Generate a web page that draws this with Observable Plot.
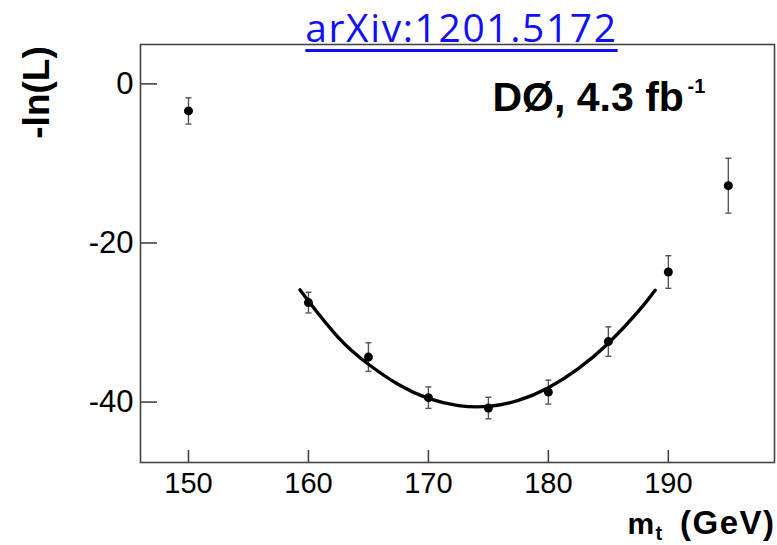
<!DOCTYPE html>
<html><head><meta charset="utf-8">
<script src="https://cdn.jsdelivr.net/npm/d3@7"></script>
<script src="https://cdn.jsdelivr.net/npm/@observablehq/plot@0.6"></script>
<style>
body{margin:0;background:#fff;}
#wrap{position:relative;width:777px;height:545px;overflow:hidden;}
#link{position:absolute;left:0;width:923px;text-align:center;top:7px;font-family:"Open Sans",sans-serif;font-size:39px;line-height:39px;color:#1010f8;text-decoration:underline;text-decoration-thickness:3px;text-underline-offset:7px;letter-spacing:1.6px;white-space:nowrap;}
.wide text, text.wide{letter-spacing:1.5px;}
</style></head>
<body><div id="wrap"><div id="chart"></div><a id="link" href="https://arxiv.org/abs/1201.5172">arXiv:1201.5172</a></div>
<script>
// Measured points: top-quark mass (GeV) and -ln(L)
const massPoints = [150, 160, 165, 170, 175, 180, 185, 190, 195];
const negLogL    = [-3.4, -27.5, -34.35, -39.45, -40.75, -38.75, -32.4, -23.65, -12.8];
const errors     = [1.65, 1.3, 1.8, 1.35, 1.35, 1.5, 1.85, 2.05, 3.45];
// Fitted curve
const fitMass    = [159.3, 160, 162.5, 165, 167.5, 170, 172.5, 175, 177.5, 180, 182.5, 185, 187.5, 188.9];
const fitNegLogL = [-25.9, -27.3, -31.9, -35.25, -37.8, -39.55, -40.45, -40.55, -39.8, -38.2, -35.8, -32.6, -28.6, -25.95];
const xTicks = [150, 160, 170, 180, 190];
const yTicks = [0, -20, -40];

const pts = massPoints.map((m, i) => ({m, v: negLogL[i], lo: negLogL[i] - errors[i], hi: negLogL[i] + errors[i]}));
const fit = fitMass.map((m, i) => ({m, v: fitNegLogL[i]}));

const capSymbol = {draw(ctx, size) { const w = Math.sqrt(size / Math.PI); ctx.moveTo(-w, 0); ctx.lineTo(w, 0); }};
const sans = "'Liberation Sans',Arial,sans-serif";
const frameCol = "#444";

const chart = Plot.plot({
  width: 777, height: 545,
  marginLeft: 140, marginRight: 3, marginTop: 44, marginBottom: 83,
  style: {fontFamily: sans, fontSize: "30px", color: "#000", background: "transparent"},
  x: {domain: [146, 198.85]},
  y: {domain: [-47.6, 4.95]},
  marks: [
    Plot.frame({stroke: frameCol, strokeWidth: 1.6}),
    Plot.ruleY(yTicks, {y: d => d, insetRight: 617, stroke: frameCol, strokeWidth: 1.6}),
    Plot.ruleX(xTicks, {x: d => d, insetTop: 406, stroke: frameCol, strokeWidth: 1.6}),
    Plot.axisY({ticks: yTicks, tickSize: 0, tickPadding: 7, tickFormat: d => String(d), fontSize: 31, fontFamily: sans, fill: "#000", label: null}),
    Plot.axisX({ticks: xTicks, tickSize: 0, tickPadding: 10, tickFormat: d => String(d), fontSize: 29, fontFamily: sans, fill: "#000", label: null}),
    Plot.ruleX(pts, {x: "m", y1: "lo", y2: "hi", stroke: "#555", strokeWidth: 1.4}),
    Plot.dot(pts, {x: "m", y: "lo", r: 3, symbol: capSymbol, stroke: "#555", fill: "none", strokeWidth: 1.4}),
    Plot.dot(pts, {x: "m", y: "hi", r: 3, symbol: capSymbol, stroke: "#555", fill: "none", strokeWidth: 1.4}),
    Plot.line(fit, {x: "m", y: "v", curve: "natural", stroke: "#000", strokeWidth: 3.4}),
    Plot.dot(pts, {x: "m", y: "v", r: 4.5, fill: "#000", stroke: "none"}),
    Plot.text(["DØ, 4.3 fb"], {frameAnchor: "top-left", textAnchor: "start", lineAnchor: "bottom", dx: 352, dy: 66, fontSize: 41, fontWeight: "bold", fontFamily: sans, fill: "#000"}),
    Plot.text(["-1"], {frameAnchor: "top-left", textAnchor: "start", lineAnchor: "bottom", dx: 547, dy: 48, fontSize: 20, fontWeight: "bold", fontFamily: sans, fill: "#000"}),
    Plot.text(["-ln(L)"], {frameAnchor: "top-left", textAnchor: "middle", lineAnchor: "bottom", rotate: -90, dx: -92, dy: 48, fontSize: 37, fontWeight: "bold", fontFamily: sans, fill: "#000"}),
    Plot.text(["m"], {frameAnchor: "bottom-right", textAnchor: "start", lineAnchor: "bottom", dx: -147, dy: 71, fontSize: 30, fontWeight: "bold", fontFamily: sans, fill: "#000"}),
    Plot.text(["t"], {frameAnchor: "bottom-right", textAnchor: "start", lineAnchor: "bottom", dx: -119, dy: 77, fontSize: 20, fontWeight: "bold", fontFamily: sans, fill: "#000"}),
    Plot.text(["(GeV)"], {frameAnchor: "bottom-right", textAnchor: "end", lineAnchor: "bottom", dx: 1, dy: 71, fontSize: 33, fontWeight: "bold", fontFamily: sans, fill: "#000", className: "wide"})
  ]
});
document.getElementById("chart").appendChild(chart);
</script>
</body></html>
